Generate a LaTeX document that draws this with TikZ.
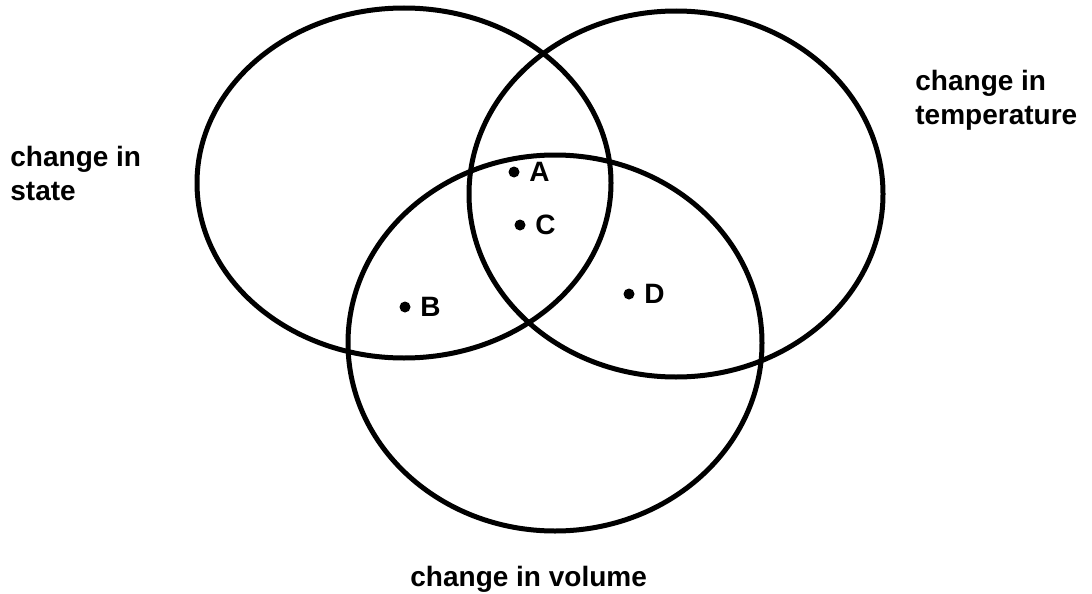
\documentclass[tikz,border=0pt]{standalone}
\usepackage{fontspec}
\setmainfont{Liberation Sans}
\usepackage{tikz}

\begin{document}
\begin{tikzpicture}[x=0.5pt, y=-0.5pt,
    ring/.style={line width=2.5pt},
    dot/.style={circle, fill, inner sep=0pt, minimum size=5.5pt},
    lbl/.style={font=\fontsize{14}{17}\selectfont\bfseries, inner sep=0pt, align=left}]
    % Bildbereich
    \useasboundingbox (0,0) rectangle (1092,594);
    % Ellipsen zeichnen
    \draw[ring] (404,183) ellipse [x radius=207, y radius=175];
    \draw[ring] (676,194) ellipse [x radius=207, y radius=183];
    \draw[ring] (555,343) ellipse [x radius=207, y radius=188];
    % Punkte mit Buchstaben
    \foreach \n/\x/\y in {A/514/172, C/520/225, B/405/307, D/629/294} {
        \node[dot] (dot\n) at (\x,\y) {};
        \node[lbl, anchor=west] (lab\n) at ([xshift=7.5pt]dot\n.center) {\n};
    }
    % Beschriftung
    \node[lbl, anchor=north west] (state) at (10,146) {change in\\state};
    \node[lbl, anchor=north west] (temp) at (915,70) {change in\\temperature};
    \node[lbl, anchor=base west] (vol) at (410,586) {change in volume};
\end{tikzpicture}
\end{document}
